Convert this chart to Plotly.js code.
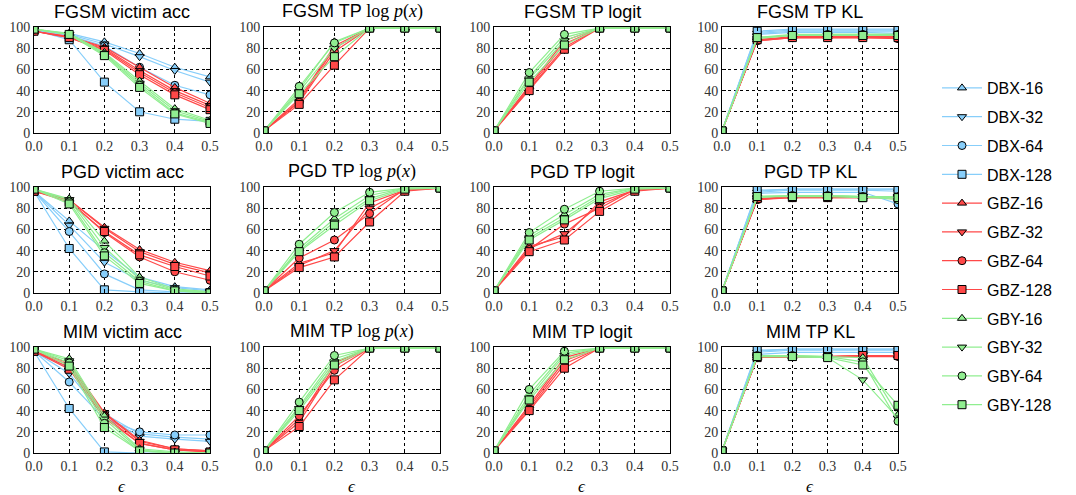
<!DOCTYPE html>
<html>
<head>
<meta charset="utf-8">
<script src="https://cdn.plot.ly/plotly-3.0.1.min.js"></script>
<style>html,body{margin:0;padding:0;background:#fff;}#chart{width:1076px;height:495px;}</style>
</head>
<body>
<div id="chart"></div>
<script>
// ---------------- data ----------------
const eps = [0, 0.1, 0.2, 0.3, 0.4, 0.5];
const xTickVals = [0, 0.1, 0.2, 0.3, 0.4, 0.5];
const xTickText = ['0.0', '0.1', '0.2', '0.3', '0.4', '0.5'];
const yTickVals = [0, 20, 40, 60, 80, 100];
const dbxNames = ['DBX-16', 'DBX-32', 'DBX-64', 'DBX-128'];
const gbzNames = ['GBZ-16', 'GBZ-32', 'GBZ-64', 'GBZ-128'];
const gbyNames = ['GBY-16', 'GBY-32', 'GBY-64', 'GBY-128'];

// FGSM victim acc
const fgsmAccDBX = [[97,94,86,75,62,53],[97,93,84,72,59,48],[97,92,82,62,45,36],[97,88,48,20,13,11]];
const fgsmAccGBZ = [[96,91,81,62,43,28],[96,91,80,59,40,26],[96,90,79,57,38,24],[96,90,78,55,36,22]];
const fgsmAccGBY = [[98,94,76,49,23,12],[98,93,75,47,21,11],[98,93,74,45,19,10],[98,93,73,43,18,9]];
// PGD victim acc
const pgdAccDBX = [[96,68,40,15,6,3],[96,64,29,12,5,2],[96,58,18,3,1,1],[96,42,3,1,0,0]];
const pgdAccGBZ = [[96,88,62,41,29,21],[96,88,61,39,27,19],[96,87,57,34,20,12],[96,86,58,36,25,16]];
const pgdAccGBY = [[98,89,49,15,4,1],[98,88,43,13,3,1],[98,86,38,11,2,0],[98,84,35,9,2,0]];
// MIM victim acc
const mimAccDBX = [[96,80,37,18,15,13],[96,75,34,16,13,11],[96,67,32,20,17,17],[96,42,1,0,0,0]];
const mimAccGBZ = [[96,85,38,12,4,2],[96,83,37,11,4,2],[96,81,35,9,3,1],[96,79,33,9,3,1]];
const mimAccGBY = [[98,89,35,4,1,0],[98,87,32,3,0,0],[98,85,28,2,0,0],[98,82,24,2,0,0]];
// FGSM TP log p(x)
const fgsmLogpGBZ = [[2,32,82,99,99,99],[2,30,80,99,99,99],[2,29,77,99,99,99],[2,27,64,99,99,99]];
const fgsmLogpGBY = [[2,41,86,99,99,99],[2,39,80,99,99,99],[2,44,85,99,99,99],[2,37,72,99,99,99]];
// PGD TP log p(x)
const pgdLogpGBZ = [[2,28,38,85,97,99],[2,26,40,80,97,99],[2,33,50,75,98,99],[2,24,34,67,96,99]];
const pgdLogpGBY = [[2,42,70,92,99,99],[2,40,67,89,99,99],[2,46,76,95,99,99],[2,39,64,87,98,99]];
// MIM TP log p(x)
const mimLogpGBZ = [[2,32,85,99,99,99],[2,29,82,99,99,99],[2,35,78,99,99,99],[2,25,69,99,99,99]];
const mimLogpGBY = [[2,44,89,99,99,99],[2,42,86,99,99,99],[2,48,92,99,99,99],[2,40,83,99,99,99]];
// FGSM TP logit
const fgsmLogitGBZ = [[2,44,87,99,99,99],[2,43,84,99,99,99],[2,42,81,99,99,99],[2,40,79,99,99,99]];
const fgsmLogitGBY = [[2,53,90,99,99,99],[2,51,87,99,99,99],[2,57,93,99,99,99],[2,48,83,99,99,99]];
// PGD TP logit
const pgdLogitGBZ = [[2,44,53,86,97,99],[2,42,56,83,97,99],[2,41,65,80,98,99],[2,39,50,77,96,99]];
const pgdLogitGBY = [[2,54,74,93,99,99],[2,52,71,91,99,99],[2,57,79,96,99,99],[2,50,69,89,98,99]];
// MIM TP logit
const mimLogitGBZ = [[2,45,90,99,99,99],[2,43,87,99,99,99],[2,41,84,99,99,99],[2,40,80,99,99,99]];
const mimLogitGBY = [[2,55,94,99,99,99],[2,52,92,99,99,99],[2,60,96,99,99,99],[2,50,88,99,99,99]];
// FGSM TP KL
const fgsmKLDBX = [[2,95,97,97,97,97],[2,94,96,96,96,96],[2,93,95,95,95,94],[2,96,98,98,98,98]];
const fgsmKLGBZ = [[2,88,91,91,91,91],[2,87,90,90,90,90],[2,87,90,90,90,89],[2,88,90,90,90,90]];
const fgsmKLGBY = [[2,90,93,93,93,93],[2,89,92,92,92,92],[2,90,92,93,93,93],[2,90,92,92,92,92]];
// PGD TP KL
const pgdKLDBX = [[2,96,98,98,98,98],[2,95,97,97,97,96],[2,94,95,95,95,84],[2,97,98,98,98,98]];
const pgdKLGBZ = [[2,88,91,91,91,91],[2,89,91,91,91,91],[2,88,90,90,90,90],[2,89,90,90,90,90]];
const pgdKLGBY = [[2,91,92,92,91,91],[2,90,92,92,91,90],[2,91,92,92,91,88],[2,91,91,91,90,90]];
// MIM TP KL
const mimKLDBX = [[2,96,98,98,98,98],[2,95,97,97,97,97],[2,93,95,95,95,95],[2,97,98,98,98,98]];
const mimKLGBZ = [[2,90,91,91,92,92],[2,90,91,91,92,92],[2,90,91,91,91,91],[2,90,91,91,92,92]];
const mimKLGBY = [[2,92,92,91,90,36],[2,91,91,90,69,33],[2,92,92,91,86,30],[2,91,91,90,83,45]];

const logp = '<span style="font-family:\'Liberation Serif\'">log <i>p</i>(<i>x</i>)</span>';
const panelTitles = [
  'FGSM victim acc', 'FGSM TP ' + logp, 'FGSM TP logit', 'FGSM TP KL',
  'PGD victim acc', 'PGD TP ' + logp, 'PGD TP logit', 'PGD TP KL',
  'MIM victim acc', 'MIM TP ' + logp, 'MIM TP logit', 'MIM TP KL'
];
const panelData = [
  [fgsmAccDBX, fgsmAccGBZ, fgsmAccGBY], [null, fgsmLogpGBZ, fgsmLogpGBY], [null, fgsmLogitGBZ, fgsmLogitGBY], [fgsmKLDBX, fgsmKLGBZ, fgsmKLGBY],
  [pgdAccDBX, pgdAccGBZ, pgdAccGBY], [null, pgdLogpGBZ, pgdLogpGBY], [null, pgdLogitGBZ, pgdLogitGBY], [pgdKLDBX, pgdKLGBZ, pgdKLGBY],
  [mimAccDBX, mimAccGBZ, mimAccGBY], [null, mimLogpGBZ, mimLogpGBY], [null, mimLogitGBZ, mimLogitGBY], [mimKLDBX, mimKLGBZ, mimKLGBY]
];

// ---------------- styling ----------------
const W = 1076, H = 495;
const familyColors = ['#87cefa', '#ff4848', '#90ee90'];
const familyNames = [dbxNames, gbzNames, gbyNames];
const symbols = ['triangle-up', 'triangle-down', 'circle', 'square'];
const colPx = [[34, 210], [264, 440], [494, 670], [722, 898]];
const rowPx = [[27, 133], [187, 293], [347, 453]];

const traces = [];
const layout = {
  width: W, height: H, autosize: false,
  margin: {l: 0, r: 0, t: 0, b: 0},
  paper_bgcolor: '#fff', plot_bgcolor: '#fff',
  showlegend: true,
  legend: {
    x: 937 / W, y: 1 - 71 / H, xanchor: 'left', yanchor: 'top',
    font: {family: 'Liberation Sans, Arial, sans-serif', size: 16, color: '#000'},
    tracegroupgap: 5, traceorder: 'grouped', itemwidth: 40,
    bgcolor: 'rgba(0,0,0,0)'
  },
  annotations: []
};

for (let p = 0; p < 12; p++) {
  const r = Math.floor(p / 4), c = p % 4;
  const n = p + 1;
  const xk = n === 1 ? 'xaxis' : 'xaxis' + n;
  const yk = n === 1 ? 'yaxis' : 'yaxis' + n;
  const xr = n === 1 ? 'x' : 'x' + n;
  const yr = n === 1 ? 'y' : 'y' + n;
  const common = {
    showline: true, linecolor: '#000', linewidth: 1, mirror: 'ticks',
    ticks: 'inside', ticklen: 4, tickcolor: '#000', tickwidth: 1,
    showgrid: true, gridcolor: '#000', gridwidth: 1, griddash: 'dot',
    zeroline: false, fixedrange: true,
    tickfont: {family: 'Liberation Serif, DejaVu Serif, serif', size: 14, color: '#333'}
  };
  layout[xk] = Object.assign({}, common, {
    domain: [colPx[c][0] / W, colPx[c][1] / W], anchor: yr,
    range: [0, 0.5], tickvals: xTickVals, ticktext: xTickText
  });
  layout[yk] = Object.assign({}, common, {
    domain: [1 - rowPx[r][1] / H, 1 - rowPx[r][0] / H], anchor: xr,
    range: [0, 100], tickvals: yTickVals
  });
  layout.annotations.push({
    text: panelTitles[p], xref: 'paper', yref: 'paper',
    x: (colPx[c][0] + colPx[c][1]) / 2 / W, y: 1 - (rowPx[r][0] - 3) / H,
    xanchor: 'center', yanchor: 'bottom', showarrow: false,
    font: {family: 'Liberation Sans, Arial, sans-serif', size: 18, color: '#000'}
  });
  if (r === 2) {
    layout.annotations.push({
      text: '<i>ϵ</i>', xref: 'paper', yref: 'paper',
      x: (colPx[c][0] + colPx[c][1]) / 2 / W, y: 1 - 486 / H,
      xanchor: 'center', yanchor: 'middle', showarrow: false,
      font: {family: 'Liberation Serif, DejaVu Serif, serif', size: 17, color: '#000'}
    });
  }
  for (let f = 0; f < 3; f++) {
    const fam = panelData[p][f];
    if (!fam) continue;
    for (let s = 0; s < 4; s++) {
      traces.push({
        type: 'scatter', mode: 'lines+markers',
        x: eps, y: fam[s], xaxis: xr, yaxis: yr,
        name: familyNames[f][s], legendgroup: familyNames[f][s],
        showlegend: p === 0,
        line: {color: familyColors[f], width: 1.2},
        marker: {symbol: symbols[s], size: 8, color: familyColors[f], line: {color: '#000', width: 1}},
        hoverinfo: 'skip'
      });
    }
  }
}

Plotly.newPlot('chart', traces, layout, {displayModeBar: false, staticPlot: true});
</script>
</body>
</html>
